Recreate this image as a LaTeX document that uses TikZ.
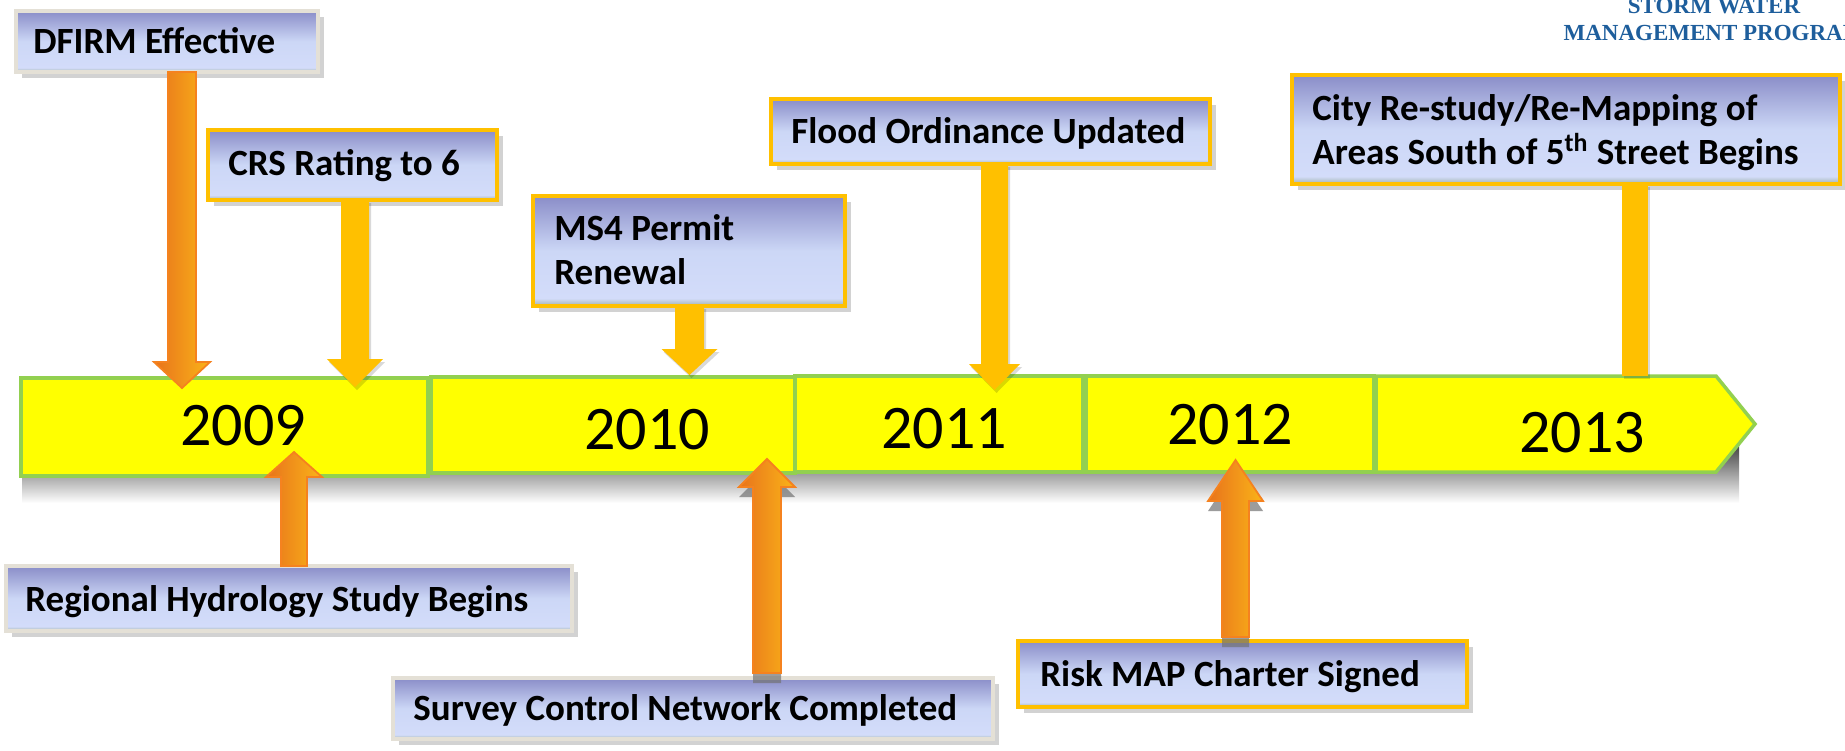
\documentclass[tikz,border=0pt]{standalone}
\usepackage{fontspec}
\setmainfont{Carlito}
\newfontfamily\swfont{Liberation Serif}
\usetikzlibrary{calc,shadows}
\definecolor{gold}{HTML}{FFC000}
\definecolor{tlyellow}{HTML}{FFFF00}
\definecolor{tlgreen}{HTML}{92D050}
\definecolor{beige}{HTML}{E4E0D6}
\definecolor{bxtop}{HTML}{8A8DC8}
\definecolor{bxlight}{HTML}{D3DCFA}
\definecolor{bxlighttwo}{HTML}{CCD7F6}
\definecolor{bxbot}{HTML}{A0B2AA}
\definecolor{orgL}{HTML}{E8731C}
\definecolor{orgR}{HTML}{FAB418}
\definecolor{orgE}{HTML}{F5821F}
\definecolor{swblue}{HTML}{1E5E9C}
\pgfdeclareverticalshading{boxfill}{100bp}{color(0bp)=(bxbot); color(25bp)=(bxbot); color(28.5bp)=(bxlight); color(50bp)=(bxlighttwo); color(75bp)=(bxtop); color(100bp)=(bxtop)}
% #1 style, #2 start, #3 tip, #4 shaft half width, #5 head half width, #6 head length
\newcommand\blockarrow[6]{%
  \path ($(#3)!#6!(#2)$) coordinate (hb);
  \path[#1] ($(#2)!#4!90:(#3)$) -- ($(hb)!#4!-90:(#2)$) -- ($(hb)!#5!-90:(#2)$) -- (#3)
     -- ($(hb)!#5!90:(#2)$) -- ($(hb)!#4!90:(#2)$) -- ($(#2)!#4!-90:(#3)$) -- cycle;}
\tikzset{
 evbox/.style={draw=beige, line width=2pt, shading=boxfill, inner sep=0pt, outer sep=0pt, anchor=north west,
   drop shadow={shadow xshift=3pt, shadow yshift=-3pt, opacity=.25, fill=black!70}},
 gdbox/.style={evbox, draw=gold, line width=1.75pt},
 seg/.style={fill=tlyellow, draw=tlgreen, line width=1.75pt, inner sep=0pt, outer sep=0pt, anchor=north west},
 lbl/.style={anchor=base west, inner sep=0pt, font=\fontsize{18.5}{22}\selectfont\bfseries},
 yr/.style={inner sep=0pt, font=\fontsize{31}{36}\selectfont},
 goldarrow/.style={fill=gold, drop shadow={shadow xshift=1pt, shadow yshift=-1.5pt, opacity=.15, fill=black}},
 orgarrow/.style={left color=orgL, right color=orgR, draw=orgE, line width=0.9pt},
 orgshadow/.style={orgarrow, drop shadow={shadow xshift=0pt, shadow yshift=-5pt, opacity=.7, fill=black!55}},
 swtext/.style={anchor=base, inner sep=0pt, text=swblue, font=\swfont\fontsize{11.5}{14}\selectfont\bfseries}
}
\begin{document}
\begin{tikzpicture}[x=0.5pt,y=-0.5pt]
\useasboundingbox (0,0) rectangle (1845,750);
\fill[white] (0,0) rectangle (1845,750);
% header text
\node[swtext] (sw1) at (1714,13) {STORM WATER};
\node[swtext] (sw2) at (1714,40) {MANAGEMENT PROGRAM};
% timeline shadow
\shade[top color=black!80, middle color=black!22, bottom color=white] (22,440) rectangle (1739,503);
% timeline
\node[seg, minimum width=203.5pt, minimum height=49pt] (y2009) at (21,378) {};
\node[seg, minimum width=182pt, minimum height=48pt] (y2010) at (431,377) {};
\node[seg, minimum width=144pt, minimum height=48pt] (y2011) at (795,376) {};
\node[seg, minimum width=144pt, minimum height=48pt] (y2012) at (1086,376) {};
\draw[seg] (1376,376) -- (1716,376) -- (1755,424) -- (1716,472) -- (1376,472) -- cycle;
\node[yr] (t2009) at (243,426) {2009};
\node[yr] (t2010) at (647,430) {2010};
\node[yr] (t2011) at (944,429) {2011};
\node[yr] (t2012) at (1230,424.5) {2012};
\node[yr] (t2013) at (1582,433) {2013};
% boxes
\node[evbox, minimum width=151pt, minimum height=30.5pt] (dfirm) at (16,11) {};
\node[gdbox, minimum width=144.5pt, minimum height=35pt] (crs) at (208,130) {};
\node[gdbox, minimum width=156pt, minimum height=55pt] (ms4) at (533,196) {};
\node[gdbox, minimum width=219.5pt, minimum height=32.5pt] (flood) at (771,99) {};
\node[gdbox, minimum width=274pt, minimum height=54.5pt] (city) at (1292,75) {};
\node[evbox, minimum width=283pt, minimum height=32.5pt] (regional) at (6,566) {};
\node[evbox, minimum width=300pt, minimum height=30.5pt] (survey) at (393,678) {};
\node[gdbox, minimum width=224.5pt, minimum height=33pt] (risk) at (1018,641) {};
% box texts
\node[lbl] (dfirm-t) at (33,53) {DFIRM Effective};
\node[lbl] (crs-t) at (228,175) {CRS Rating to 6};
\node[lbl] (ms4-t) at (554,240) {\begin{tabular}[t]{@{}l@{}}MS4 Permit\\Renewal\end{tabular}};
\node[lbl] (flood-t) at (791,143) {Flood Ordinance Updated};
\node[lbl] (city-t) at (1312,120) {\begin{tabular}[t]{@{}l@{}}City Re-study/Re-Mapping of\\Areas South of 5\textsuperscript{th} Street Begins\end{tabular}};
\node[lbl] (regional-t) at (25,611) {Regional Hydrology Study Begins};
\node[lbl] (survey-t) at (413,720) {Survey Control Network Completed};
\node[lbl] (risk-t) at (1040,686) {Risk MAP Charter Signed};
% arrow end points
\coordinate (dt) at (182,388);   \coordinate (ds) at (dt |- dfirm.south);
\coordinate (ct) at (355,387);   \coordinate (cs) at (ct |- crs.south);
\coordinate (mt) at (689.5,375); \coordinate (ms) at (mt |- ms4.south);
\coordinate (ft) at (994.5,390); \coordinate (fs) at (ft |- flood.south);
\coordinate (yt) at (1634.5,376);\coordinate (ys) at (yt |- city.south);
\coordinate (rt) at (294,452);   \coordinate (rs) at (rt |- regional.north);
\coordinate (st) at (767,459);   \coordinate (ss) at ($(st |- survey.north)+(0,-5)$);
\coordinate (kt) at (1235.5,460);\coordinate (ks) at ($(kt |- risk.north)+(0,-4)$);
% arrows
\blockarrow{orgarrow}{ds}{dt}{7pt}{14pt}{13pt}
\blockarrow{goldarrow}{cs}{ct}{7pt}{14pt}{14pt}
\blockarrow{goldarrow}{ms}{mt}{7.25pt}{14pt}{13pt}
\blockarrow{goldarrow}{fs}{ft}{6.75pt}{12.75pt}{13pt}
\fill[goldarrow] ($(ys)+(-13,0)$) rectangle ($(yt)+(13,0)$);
\blockarrow{orgarrow}{rs}{rt}{6.5pt}{14pt}{12.5pt}
\blockarrow{orgshadow}{ss}{st}{7pt}{14pt}{14pt}
\blockarrow{orgshadow}{ks}{kt}{6.75pt}{13.75pt}{20.5pt}
\end{tikzpicture}
\end{document}
